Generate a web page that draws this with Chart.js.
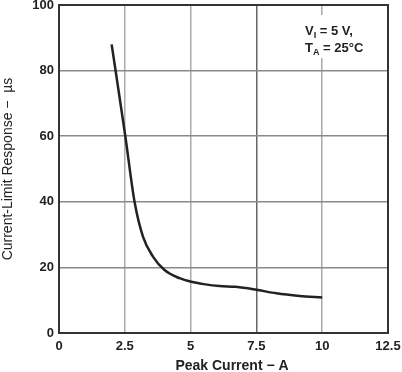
<!DOCTYPE html>
<html>
<head>
<meta charset="utf-8">
<script src="https://cdn.jsdelivr.net/npm/chart.js@4/dist/chart.umd.min.js"></script>
<style>
    html, body { margin: 0; padding: 0; background: #fff; }
    #wrap { width: 402px; height: 372px; }
</style>
</head>
<body>
<div id="wrap"><canvas id="responseChart" width="402" height="372"></canvas></div>
<script>
// Peak current (A) vs. current-limit response time (us)
const peakCurrent = [2.0, 2.52, 2.87, 3.19, 3.57, 4.01, 4.58, 5.03, 5.5, 6.1, 6.7, 7.1, 7.56, 8.26, 9.14, 10.0];
const responseTime = [88, 60, 40, 29.4, 23.3, 19.2, 16.7, 15.6, 14.9, 14.3, 14.1, 13.7, 13.1, 12.1, 11.3, 10.8];

const xTicks = [0, 2.5, 5, 7.5, 10, 12.5];
const yTicks = [0, 20, 40, 60, 80, 100];

const xTitle = 'Peak Current − A';
const noteLines = [['V', 'I', ' = 5 V,'], ['T', 'A', ' = 25°C']];

const FONT = '"Liberation Sans", Arial, sans-serif';

const framePlugin = {
    id: 'frame',
    afterDatasetsDraw(chart) {
        const { ctx, chartArea: a } = chart;
        ctx.save();
        // condition note with white backing over the grid
        ctx.fillStyle = '#fff';
        ctx.fillRect(300, 15, 68, 43);
        ctx.fillStyle = '#222';
        ctx.textBaseline = 'alphabetic';
        ctx.textAlign = 'left';
        noteLines.forEach((parts, i) => {
            let x = 305;
            const y = 35 + i * 17;
            ctx.font = 'bold 13px ' + FONT;
            ctx.fillText(parts[0], x, y);
            x += ctx.measureText(parts[0]).width;
            ctx.font = 'bold 9px ' + FONT;
            ctx.fillText(parts[1], x, y + 3);
            x += ctx.measureText(parts[1]).width;
            ctx.font = 'bold 13px ' + FONT;
            ctx.fillText(parts[2], x, y);
        });
        // x axis title sits a little right of the plot centre in the original
        ctx.font = 'bold 14px ' + FONT;
        ctx.textAlign = 'center';
        ctx.textBaseline = 'middle';
        ctx.fillText(xTitle, 232, 366);

        ctx.strokeStyle = '#333';
        ctx.lineWidth = 2;
        ctx.strokeRect(a.left, a.top, a.right - a.left, a.bottom - a.top);
        ctx.restore();
    }
};

const ctx = document.getElementById('responseChart').getContext('2d');
new Chart(ctx, {
    type: 'line',
    data: {
        datasets: [{
            data: peakCurrent.map((x, i) => ({ x: x, y: responseTime[i] })),
            borderColor: '#222',
            borderWidth: 2.5,
            pointRadius: 0,
            fill: false,
            cubicInterpolationMode: 'monotone'
        }]
    },
    options: {
        responsive: false,
        animation: false,
        layout: { padding: { top: 5, right: 14, left: 0, bottom: 0 } },
        plugins: {
            legend: { display: false },
            tooltip: { enabled: false }
        },
        scales: {
            x: {
                type: 'linear',
                min: 0,
                max: 12.5,
                afterBuildTicks: scale => { scale.ticks = xTicks.map(v => ({ value: v })); },
                afterFit: scale => {
                    scale.height = 39;
                    scale.paddingRight = 0;
                    scale.paddingLeft = 0;
                },
                ticks: {
                    color: '#222',
                    padding: 6,
                    font: { family: FONT, size: 13, weight: 'bold' }
                },
                grid: {
                    drawTicks: false,
                    lineWidth: 1.5,
                    color: c => (c.tick && c.tick.value === 7.5) ? '#666' : '#aaa'
                },
                border: { display: false }
            },
            y: {
                min: 0,
                max: 100,
                afterBuildTicks: scale => { scale.ticks = yTicks.map(v => ({ value: v })); },
                afterFit: scale => {
                    scale.width = 59;
                    scale.paddingTop = 0;
                    scale.paddingBottom = 0;
                },
                ticks: {
                    color: '#222',
                    padding: 5,
                    font: { family: FONT, size: 13, weight: 'bold' }
                },
                grid: {
                    drawTicks: false,
                    lineWidth: 1.5,
                    color: '#8a8a8a'
                },
                border: { display: false },
                title: {
                    display: true,
                    text: 'Current-Limit Response −  µs',
                    color: '#222',
                    padding: { top: 0, bottom: 0 },
                    font: { family: FONT, size: 14 }
                }
            }
        }
    },
    plugins: [framePlugin]
});
</script>
</body>
</html>
